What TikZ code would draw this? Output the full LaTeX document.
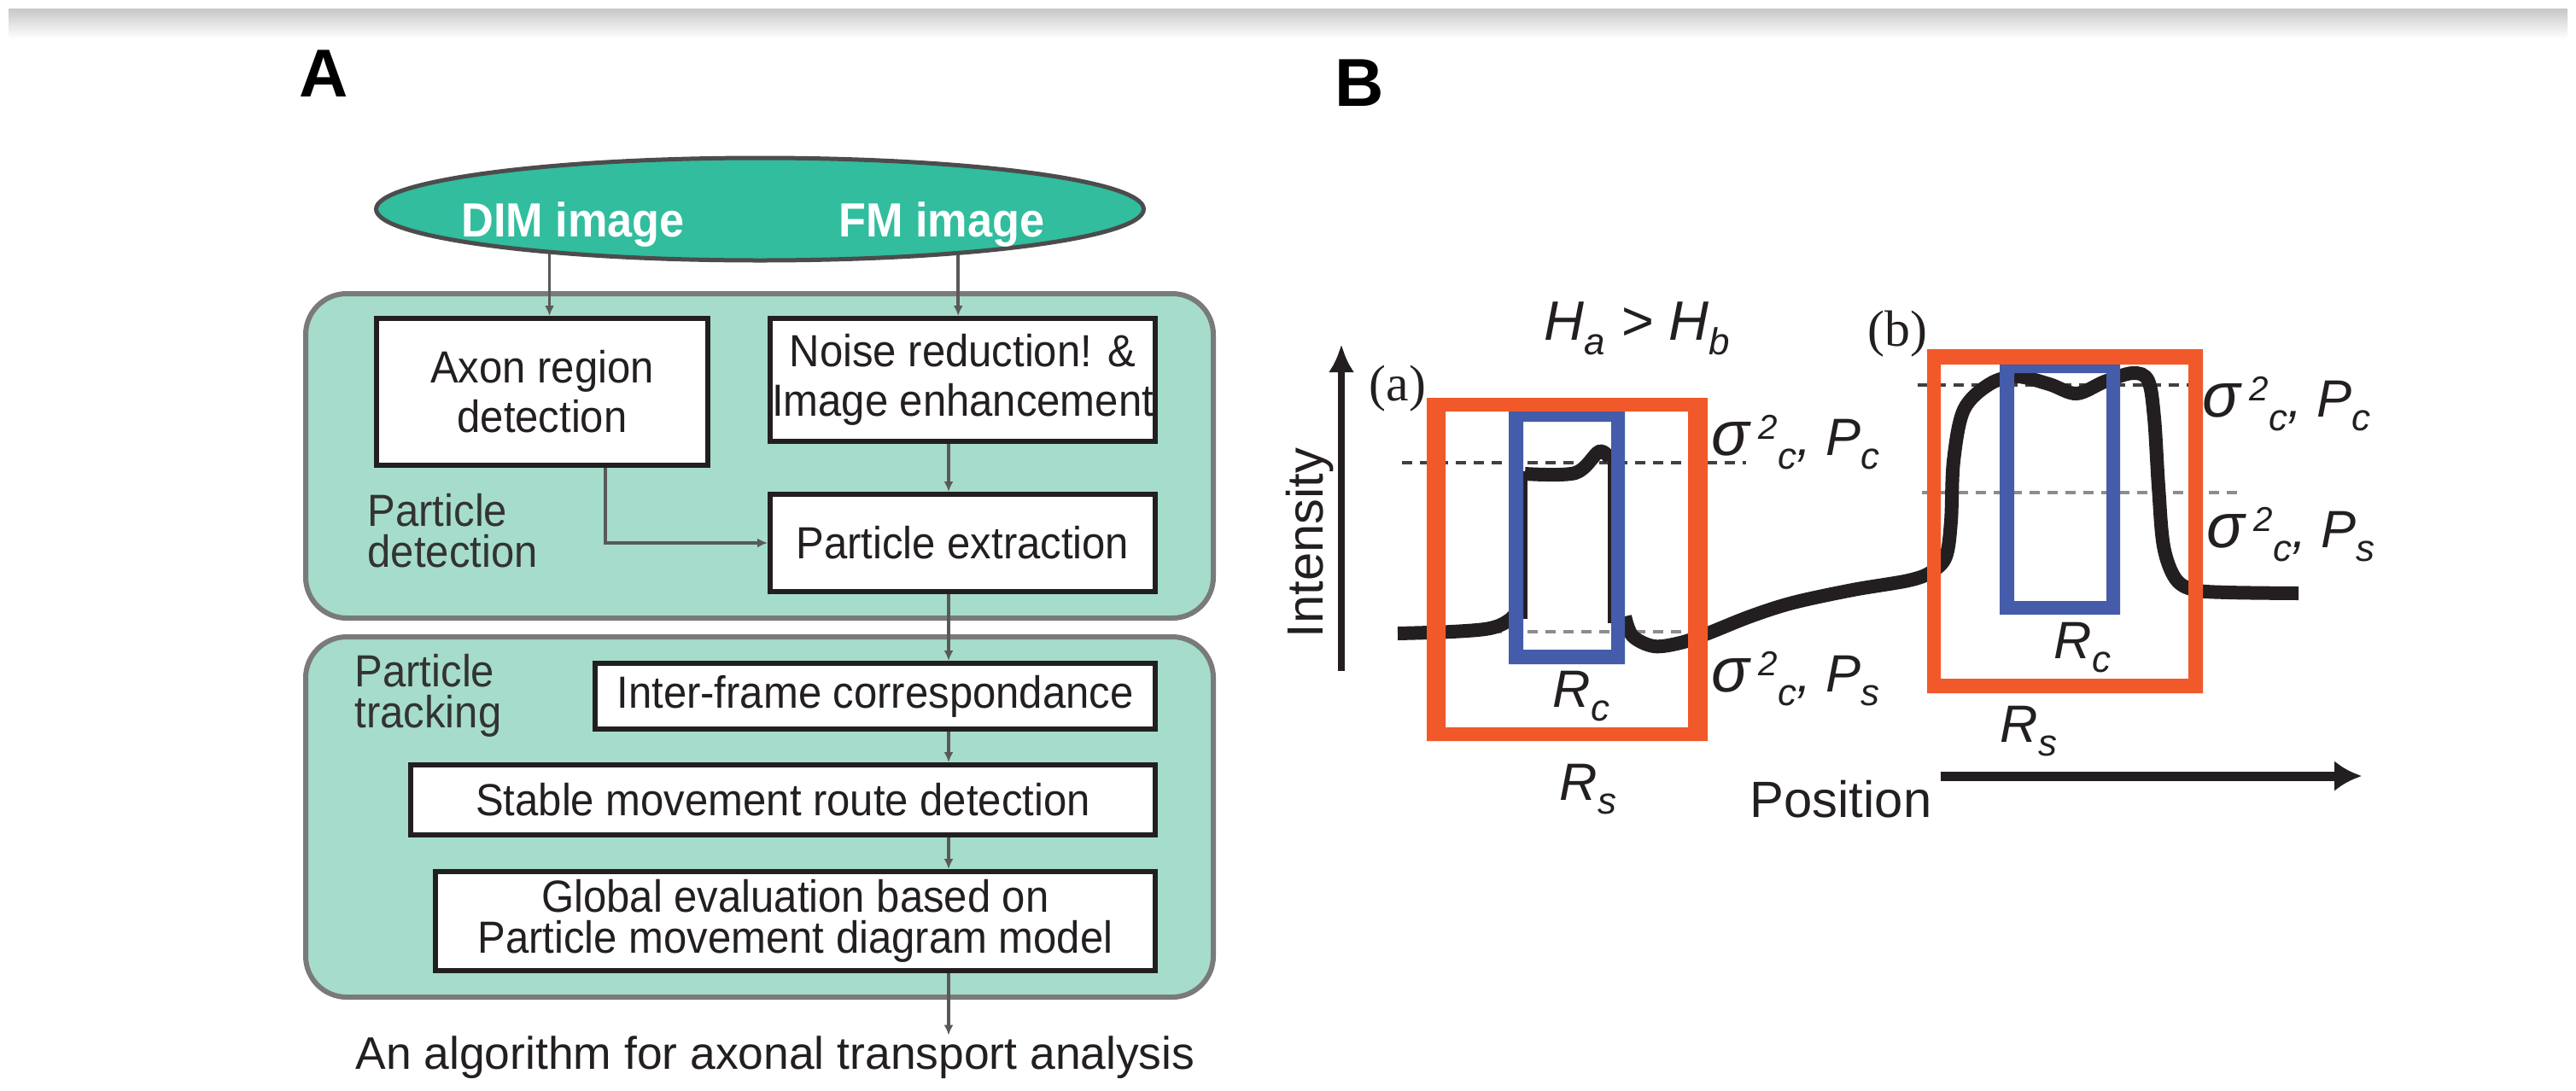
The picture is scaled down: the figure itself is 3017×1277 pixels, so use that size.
\documentclass[tikz,border=0pt]{standalone}
\usepackage{fontspec}
\setmainfont{Liberation Sans}
\newfontfamily\narrowsans[FakeStretch=0.93]{Liberation Sans}
\newfontfamily\timesfont{Liberation Serif}
\usepackage{xcolor}
\usetikzlibrary{arrows.meta, shapes.geometric}

\definecolor{srcteal}{HTML}{31BD9E}
\definecolor{stagegreen}{HTML}{A6DCCB}
\definecolor{rsorange}{HTML}{F1592B}
\definecolor{rcblue}{HTML}{445CA9}
\definecolor{ink}{HTML}{231F20}

\newcommand{\lowtxt}[1]{\raisebox{-0.27em}{\fontsize{12.5}{12.5}\selectfont #1}}
\newcommand{\hightxt}[1]{\raisebox{0.3em}{\fontsize{11.5}{11.5}\selectfont #1}}
\newcommand{\bigsigma}{{\fontsize{21}{20}\selectfont σ}\kern3pt}

\tikzset{
  stage/.style={draw=black!52, line width=0.6mm, fill=stagegreen, rounded corners=4.8mm},
  stepbox/.style={draw=ink, line width=0.6mm, fill=white, inner sep=0pt, align=center, text=ink,
    font=\narrowsans\fontsize{15}{16.5}\selectfont},
  flow/.style={draw=black!65, line width=0.35mm, -{Latex[length=1.2mm,width=1.1mm]}},
  stagelabel/.style={align=left, text=black!80, anchor=north west, inner sep=0pt,
    font=\narrowsans\fontsize{15}{13.6}\selectfont},
  srctext/.style={anchor=base, inner sep=0pt, text=white, font=\narrowsans\bfseries\fontsize{16}{18}\selectfont},
  trace/.style={ink, line width=1.6mm},
  thintrace/.style={ink, line width=0.5mm},
  level/.style={line width=0.4mm, dash pattern=on 1.2mm off 0.9mm},
  plotlabel/.style={anchor=base west, inner sep=0pt, text=ink, font=\fontsize{17.5}{20}\selectfont\itshape},
}

\begin{document}
\begin{tikzpicture}[x=0.1mm, y=-0.1mm]
\useasboundingbox (0,0) rectangle (3017,1277);
\shade[top color=black!22, bottom color=white] (10,10) rectangle (3007,45); %top shadow

% A: flow chart
\node[anchor=base west, inner sep=0pt, font=\bfseries\fontsize{22.6}{26}\selectfont] (panelA) at (350,113) {A};
\draw[stage] (358,344) rectangle (1421,724);
\draw[stage] (358,746) rectangle (1421,1168);
\node[stagelabel] (detlabel) at (430,578) {Particle\\detection};
\node[stagelabel] (tracklabel) at (415,766) {Particle\\tracking};

\node[ellipse, draw=black!70, line width=0.5mm, fill=srcteal, minimum width=89.9mm, minimum height=12mm, inner sep=0pt] (src) at (890,245) {};
\node[srctext] (dim) at (671,277) {DIM image};
\node[srctext] (fm) at (1103,277) {FM image};

\node[stepbox, minimum width=38.8mm, minimum height=17.2mm] (axon) at (635,459) {Axon region\\detection};
\node[stepbox, minimum width=45.1mm, minimum height=14.4mm] (noise) at (1127.5,445) {Noise reduction! \&\\Image enhancement};
\node[stepbox, minimum width=45.1mm, minimum height=11.4mm] (extract) at (1127.5,636) {Particle extraction};
\node[stepbox, minimum width=65.6mm, minimum height=7.7mm] (inter) at (1025,815.5) {Inter-frame correspondance};
\node[stepbox, minimum width=87.2mm, minimum height=8.2mm] (stable) at (917,937) {Stable movement route detection};
\node[stepbox, minimum width=84.3mm, minimum height=11.6mm, font=\narrowsans\fontsize{15}{13.7}\selectfont] (global) at (931.5,1079) {Global evaluation based on\\Particle movement diagram model};
\node[anchor=base, inner sep=0pt, text=ink, font=\fontsize{15.2}{18}\selectfont] (result) at (908,1252) {An algorithm for axonal transport analysis};

\coordinate (fmline) at (1111,0);
\coordinate (elbow) at (709,0);
\draw[flow] (src.-168.5) -- (src.-168.5 |- axon.north);
\draw[flow] (src.-13.3) -- (src.-13.3 |- noise.north);
\draw[flow] (axon.south -| elbow) |- (extract.west);
\draw[flow] (noise.south -| fmline) -- (extract.north -| fmline);
\draw[flow] (extract.south -| fmline) -- (inter.north -| fmline);
\draw[flow] (inter.south -| fmline) -- (stable.north -| fmline);
\draw[flow] (stable.south -| fmline) -- (global.north -| fmline);
\draw[flow] (global.south -| fmline) -- (fmline |- result.north);

% B: intensity profile
\node[anchor=base west, inner sep=0pt, font=\bfseries\fontsize{22.6}{26}\selectfont] (panelB) at (1563,124) {B};
\draw[level, black!75] (1642,542) -- (2045,542);
\draw[level, black!45] (1642,740) -- (1977,740);
\draw[level, black!75] (2246,451) -- (2580,451);
\draw[level, black!45] (2251,577) -- (2621,577);

\draw[trace] plot[smooth, tension=0.55] coordinates {(1637,742) (1700,740) (1745,736) (1768,726) (1781,710)};
\draw[thintrace] (1786,725) -- (1786,552);
\draw[trace] plot[smooth, tension=0.55] coordinates {(1786,555) (1845,554) (1873,529) (1886,538)};
\draw[thintrace] (1885,535) -- (1885,730);
\draw[trace] plot[smooth, tension=0.55] coordinates {(1903,722) (1912,745) (1937,757) (1968,753) (2000,742) (2050,722) (2100,706) (2170,691) (2235,680) (2262,670) (2279,652) (2285,610) (2288,540) (2300,480) (2330,450) (2362,441) (2400,450) (2432,461) (2465,447) (2498,437) (2516,446) (2523,490) (2528,570) (2534,640) (2548,678) (2570,691) (2610,694) (2692,695)};

\fill[rsorange, even odd rule] (1671,466) rectangle (2000,868) (1693,482) rectangle (1977,852);
\fill[rsorange, even odd rule] (2257,409) rectangle (2580,812) (2273,427) rectangle (2563,795);
\fill[rcblue, even odd rule] (1767,482) rectangle (1903,778) (1784,494) rectangle (1887,761);
\fill[rcblue, even odd rule] (2342,427) rectangle (2483,720) (2359,437) rectangle (2467,704);

\draw[ink, line width=0.8mm, -{Latex[length=3.3mm,width=3mm]}] (1571,786) -- (1571,403);
\draw[ink, line width=1.1mm, -{Latex[length=3.2mm,width=3.6mm]}] (2273,909) -- (2766,909);
\node[rotate=90, anchor=base, inner sep=0pt, text=ink, font=\fontsize{17}{20}\selectfont] (intensity) at (1549,636) {Intensity};
\node[anchor=base west, inner sep=0pt, text=ink, font=\fontsize{17}{20}\selectfont] (position) at (2049,957) {Position};

\node[anchor=base west, inner sep=0pt, text=ink, font=\timesfont\fontsize{17}{20}\selectfont] (peakA) at (1603,469) {(a)};
\node[anchor=base west, inner sep=0pt, text=ink, font=\timesfont\fontsize{17}{20}\selectfont] (peakB) at (2187,405) {(b)};
\node[plotlabel, font=\fontsize{18.5}{20}\selectfont\itshape] (height) at (1808,398) {H\lowtxt{a} > H\lowtxt{b}};
\node[plotlabel] (sigcA) at (2004,533) {\bigsigma\hightxt{2}\lowtxt{c}, P\lowtxt{c}};
\node[plotlabel] (sigsA) at (2004,810) {\bigsigma\hightxt{2}\lowtxt{c}, P\lowtxt{s}};
\node[plotlabel] (sigcB) at (2579,488) {\bigsigma\hightxt{2}\lowtxt{c}, P\lowtxt{c}};
\node[plotlabel] (sigsB) at (2584,641) {\bigsigma\hightxt{2}\lowtxt{c}, P\lowtxt{s}};
\node[plotlabel] (rcA) at (1818,828) {R\lowtxt{c}};
\node[plotlabel] (rsA) at (1826,937) {R\lowtxt{s}};
\node[plotlabel] (rcB) at (2405,771) {R\lowtxt{c}};
\node[plotlabel] (rsB) at (2342,869) {R\lowtxt{s}};
\end{tikzpicture}
\end{document}
